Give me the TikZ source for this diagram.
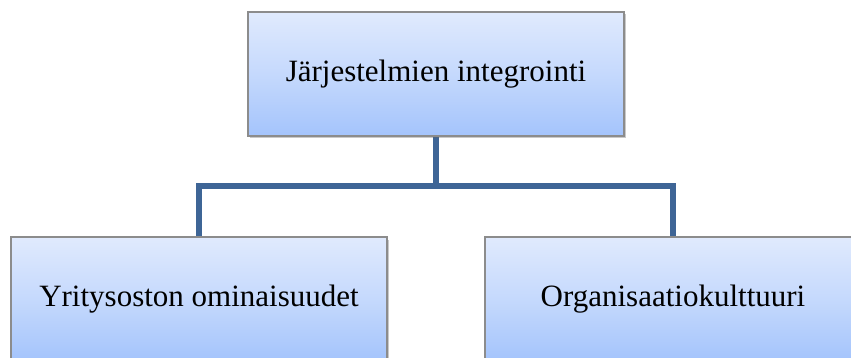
\documentclass[tikz,border=0pt]{standalone}
\usepackage{fontspec}
\setmainfont{Liberation Serif}
\usetikzlibrary{shadows}
\definecolor{boxtop}{RGB}{224,234,253}
\definecolor{boxbot}{RGB}{164,196,252}
\definecolor{boxline}{RGB}{140,140,140}
\definecolor{connc}{RGB}{62,101,150}
\tikzset{
  orgbox/.style={rectangle, draw=boxline, line width=1.3pt,
    top color=boxtop, bottom color=boxbot, middle color=boxtop!55!boxbot,
    minimum width=376pt, minimum height=124pt, inner sep=0pt,
    font=\fontsize{31}{36}\selectfont, text=black,
    drop shadow={shadow xshift=1.5pt, shadow yshift=-2.5pt, opacity=0.35, fill=black!60}},
  conn/.style={draw=connc, line width=5.5pt, line join=miter}
}
\begin{document}
\begin{tikzpicture}[x=1pt,y=-1pt]
\useasboundingbox (0,0) rectangle (851,358);
\clip (0,0) rectangle (851,358);
\fill[white] (0,0) rectangle (851,358);
\coordinate (bus) at (436,186);
\draw[conn] (436,130) -- (bus);
\draw[conn] (199,240) |- (bus) -| (673,240);
\node[orgbox] (top) at (436,74) {Järjestelmien integrointi};
\node[orgbox] (left) at (199,299) {Yritysoston ominaisuudet};
\node[orgbox] (right) at (673,299) {Organisaatiokulttuuri};
\end{tikzpicture}
\end{document}
